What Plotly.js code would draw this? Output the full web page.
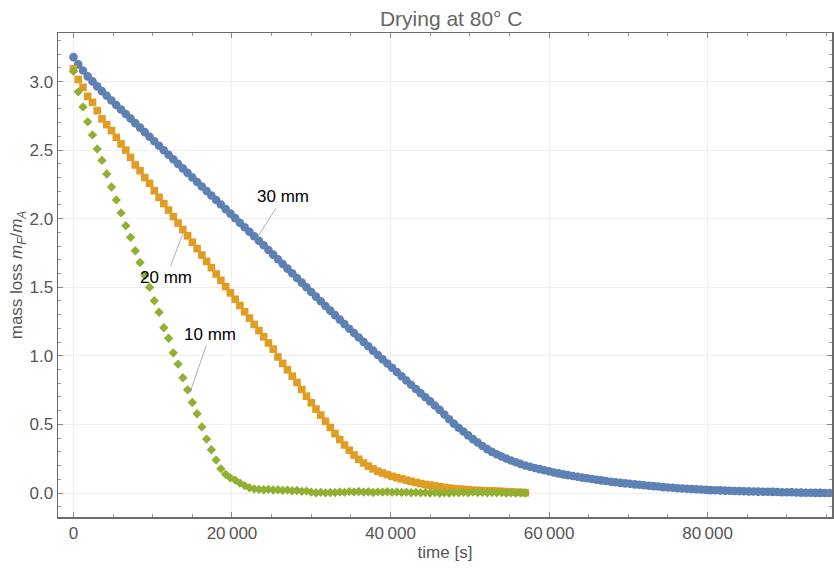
<!DOCTYPE html>
<html>
<head>
<meta charset="utf-8">
<script src="https://cdn.plot.ly/plotly-3.0.1.min.js"></script>
<style>html,body{margin:0;padding:0;background:#fff;}#chart{width:834px;height:568px;}</style>
</head>
<body>
<div id="chart"></div>
<script>
// sampling times [s]
const timeS = [0,600,1200,1800,2400,3000,3600,4200,4800,5400,6000,6600,7200,7800,8400,9000,9600,10200,10800,11400,
12000,12600,13200,13800,14400,15000,15600,16200,16800,17400,18000,18600,19200,19800,20400,21000,21600,22200,22800,23400,
24000,24600,25200,25800,26400,27000,27600,28200,28800,29400,30000,30600,31200,31800,32400,33000,33600,34200,34800,35400,
36000,36600,37200,37800,38400,39000,39600,40200,40800,41400,42000,42600,43200,43800,44400,45000,45600,46200,46800,47400,
48000,48600,49200,49800,50400,51000,51600,52200,52800,53400,54000,54600,55200,55800,56400,57000,57600,58200,58800,59400,
60000,60600,61200,61800,62400,63000,63600,64200,64800,65400,66000,66600,67200,67800,68400,69000,69600,70200,70800,71400,
72000,72600,73200,73800,74400,75000,75600,76200,76800,77400,78000,78600,79200,79800,80400,81000,81600,82200,82800,83400,
84000,84600,85200,85800,86400,87000,87600,88200,88800,89400,90000,90600,91200,91800,92400,93000,93600,94200,94800,95400];

// 30 mm sample
const loss30 = [3.178,3.125,3.081,3.038,3.001,2.965,2.930,2.896,2.862,2.829,2.796,2.763,2.730,2.697,2.664,2.631,2.598,2.565,2.532,2.499,
2.466,2.433,2.400,2.367,2.334,2.301,2.268,2.235,2.202,2.169,2.136,2.103,2.070,2.037,2.004,1.971,1.938,1.905,1.872,1.839,
1.806,1.772,1.738,1.704,1.670,1.636,1.602,1.568,1.534,1.500,1.466,1.432,1.398,1.364,1.330,1.297,1.264,1.231,1.198,1.166,
1.134,1.102,1.070,1.038,1.006,0.975,0.944,0.913,0.882,0.851,0.820,0.789,0.758,0.728,0.698,0.668,0.638,0.606,0.572,0.538,
0.505,0.476,0.448,0.420,0.393,0.368,0.343,0.320,0.300,0.282,0.266,0.251,0.237,0.224,0.212,0.201,0.191,0.182,0.174,0.166,
0.158,0.150,0.143,0.136,0.130,0.124,0.118,0.112,0.107,0.102,0.097,0.092,0.087,0.082,0.078,0.074,0.070,0.067,0.063,0.060,
0.056,0.053,0.050,0.047,0.043,0.040,0.038,0.035,0.033,0.031,0.029,0.027,0.025,0.023,0.021,0.020,0.019,0.017,0.016,0.015,
0.014,0.013,0.012,0.011,0.010,0.009,0.009,0.008,0.007,0.006,0.005,0.005,0.004,0.003,0.002,0.002,0.001,0.001,0.000,0.000];

// 20 mm sample
const loss20 = [3.093,3.015,2.958,2.892,2.849,2.788,2.728,2.686,2.642,2.593,2.545,2.500,2.447,2.392,2.350,2.300,2.258,2.204,2.156,2.110,
2.063,2.015,1.968,1.921,1.875,1.828,1.782,1.735,1.689,1.643,1.597,1.551,1.505,1.459,1.413,1.367,1.321,1.275,1.229,1.184,
1.139,1.094,1.049,0.992,0.945,0.898,0.852,0.806,0.755,0.706,0.658,0.612,0.568,0.523,0.478,0.433,0.390,0.350,0.312,0.277,
0.246,0.219,0.196,0.176,0.159,0.146,0.134,0.122,0.112,0.103,0.094,0.085,0.077,0.069,0.062,0.057,0.051,0.046,0.041,0.036,
0.032,0.029,0.027,0.024,0.021,0.019,0.017,0.016,0.015,0.014,0.012,0.010,0.008,0.006,0.004,0.002];

// 10 mm sample
const loss10 = [3.075,2.925,2.815,2.706,2.611,2.509,2.425,2.326,2.231,2.137,2.042,1.949,1.864,1.766,1.681,1.585,1.500,1.402,1.318,1.205,
1.128,1.022,0.940,0.840,0.752,0.660,0.578,0.482,0.393,0.315,0.240,0.176,0.136,0.110,0.094,0.072,0.054,0.038,0.030,0.026,
0.024,0.026,0.022,0.024,0.019,0.021,0.016,0.018,0.012,0.014,0.006,0.002,0.005,0.001,0.004,0.003,0.007,0.005,0.010,0.008,
0.011,0.006,0.009,0.004,0.008,0.006,0.009,0.005,0.007,0.004,0.006,0.002,0.005,0.001,0.004,0.000,0.003,-0.002,0.002,-0.001,
0.003,0.001,0.005,0.002,0.006,0.003,0.005,0.002,0.004,0.001,0.003,0.000,0.002,-0.001,0.002,0.000];

const seriesNames = ['30 mm','20 mm','10 mm'];
const xTickVals = [0,20000,40000,60000,80000];
const xTickText = ['0','20\u2009000','40\u2009000','60\u2009000','80\u2009000'];
const yTickVals = [0,0.5,1,1.5,2,2.5,3];
const yTickText = ['0.0','0.5','1.0','1.5','2.0','2.5','3.0'];

const FONT = 'Liberation Sans, Arial, sans-serif';
const traces = [
  {x: timeS.slice(0, loss30.length), y: loss30, name: seriesNames[0], type:'scatter', mode:'markers',
   marker:{symbol:'circle', size:8.6, color:'#5E81B5'}},
  {x: timeS.slice(0, loss20.length), y: loss20, name: seriesNames[1], type:'scatter', mode:'markers',
   marker:{symbol:'square', size:7.6, color:'#E19C24'}},
  {x: timeS.slice(0, loss10.length), y: loss10, name: seriesNames[2], type:'scatter', mode:'markers',
   marker:{symbol:'diamond', size:7.2, color:'#8FB032'}}
];

const axisCommon = {
  ticks:'inside', ticklen:5, tickwidth:1, tickcolor:'#888',
  showline:true, linecolor:'#6b6b6b', linewidth:1.5, mirror:'ticks',
  showgrid:true, gridcolor:'#efefef', gridwidth:1, zeroline:false,
  tickfont:{family:FONT, size:17, color:'#555'},
  tickmode:'array'
};

const layout = {
  width:834, height:568,
  margin:{l:58, r:2, t:33, b:51},
  paper_bgcolor:'#fff', plot_bgcolor:'#fff',
  showlegend:false,
  font:{family:FONT},
  title:{text:'Drying at 80° C', font:{family:FONT, size:21, color:'#666'},
         x:0.541, xref:'container', xanchor:'center', y:0.968, yref:'container', yanchor:'middle'},
  xaxis:Object.assign({}, axisCommon, {
    range:[-1950, 95700], tickvals:xTickVals, ticktext:xTickText,
    minor:{tickmode:'linear', tick0:0, dtick:5000, ticks:'inside', ticklen:3, tickcolor:'#999', showgrid:false},
    title:{text:'time [s]', font:{family:FONT, size:17, color:'#555'}, standoff:4}
  }),
  yaxis:Object.assign({}, axisCommon, {
    range:[-0.175, 3.354], tickvals:yTickVals, ticktext:yTickText,
    minor:{tickmode:'linear', tick0:0, dtick:0.1, ticks:'inside', ticklen:3, tickcolor:'#999', showgrid:false},
    title:{text:'mass loss <i>m</i><sub><i>F</i></sub>/<i>m</i><sub><i>A</i></sub>', font:{family:FONT, size:17, color:'#555'}, standoff:2}
  }),
  annotations:[
    {x:23160, y:1.86, text:seriesNames[0], ax:26, ay:-41, showarrow:true, arrowhead:0, arrowwidth:0.8, arrowcolor:'#999',
     font:{family:FONT, size:17, color:'#000'}},
    {x:13860, y:1.90, text:seriesNames[1], ax:-17, ay:45, showarrow:true, arrowhead:0, arrowwidth:0.8, arrowcolor:'#999',
     font:{family:FONT, size:17, color:'#000'}},
    {x:14700, y:0.732, text:seriesNames[2], ax:20, ay:-58, showarrow:true, arrowhead:0, arrowwidth:0.8, arrowcolor:'#999',
     font:{family:FONT, size:17, color:'#000'}}
  ]
};

Plotly.newPlot('chart', traces, layout, {displayModeBar:false, staticPlot:true});
</script>
</body>
</html>
